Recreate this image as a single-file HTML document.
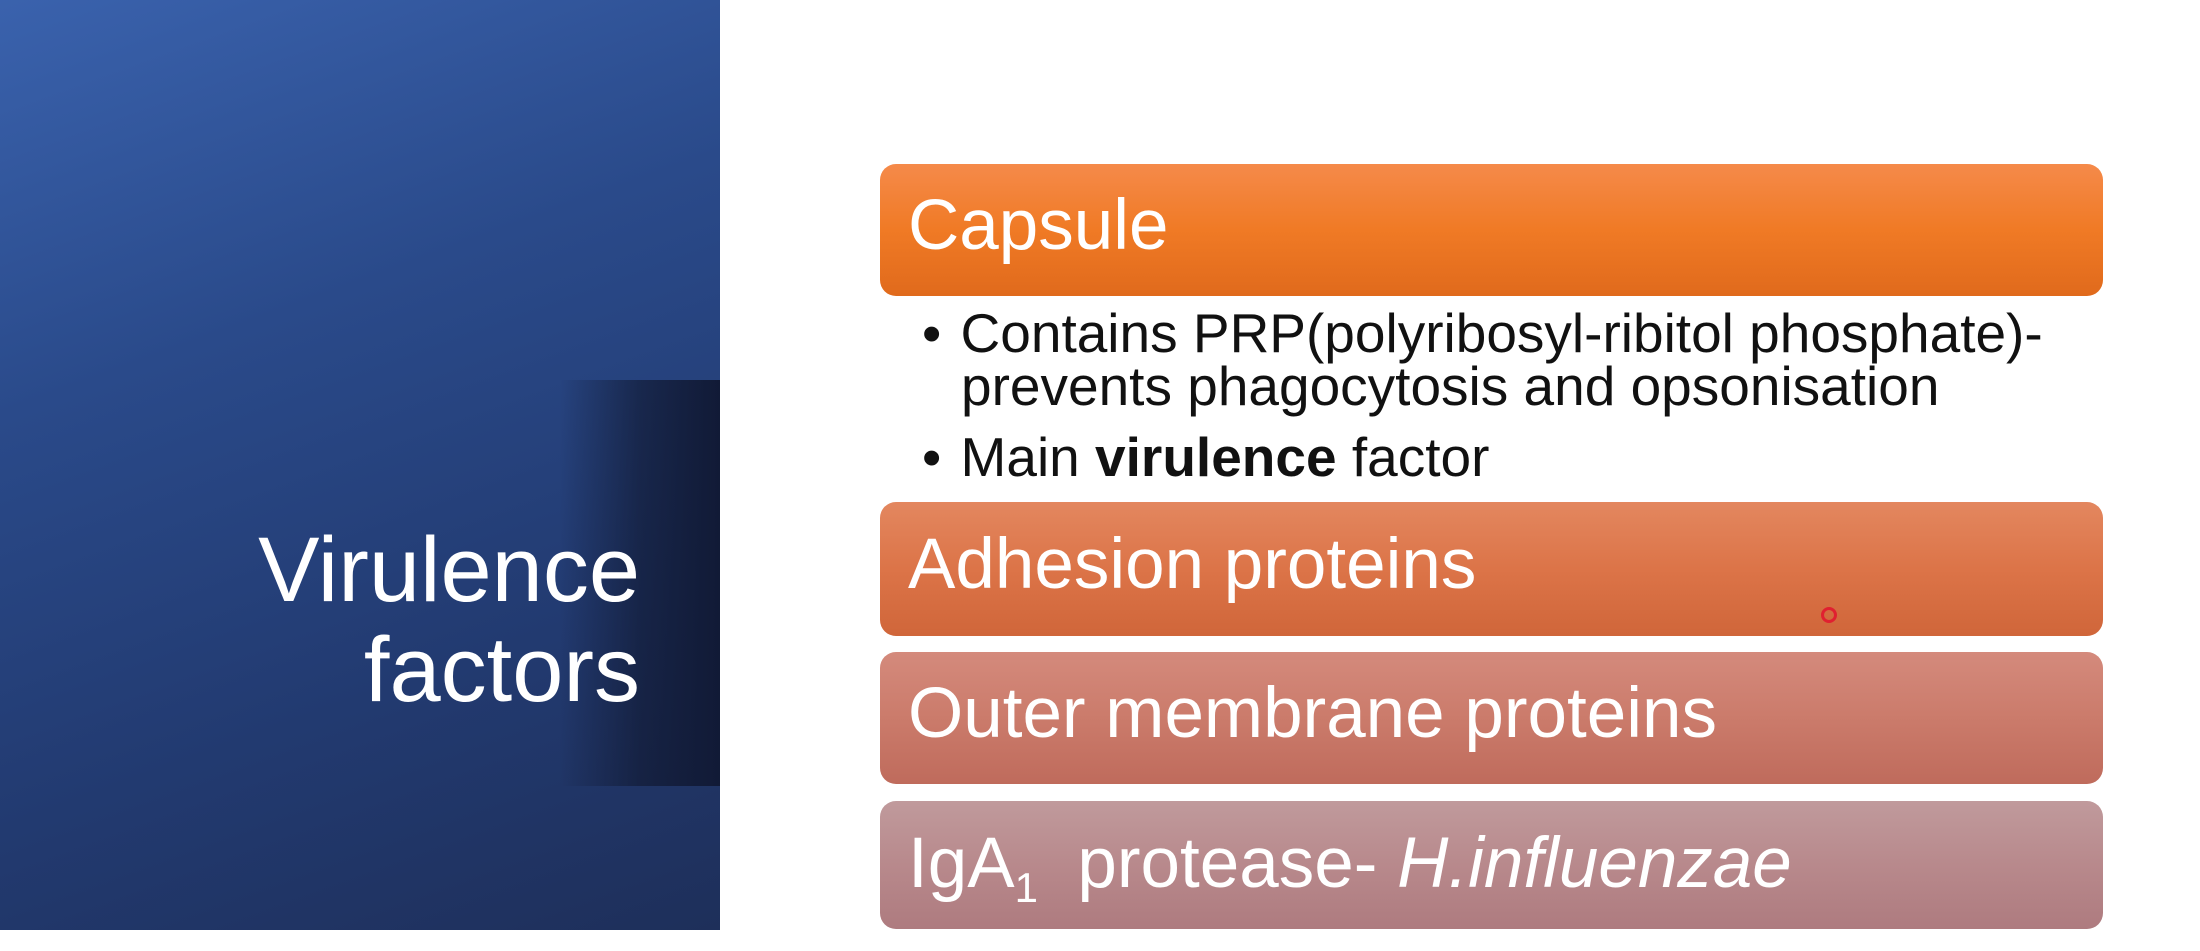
<!DOCTYPE html>
<html><head><meta charset="utf-8"><style>
html,body{margin:0;padding:0;}
body{width:2200px;height:930px;position:relative;overflow:hidden;background:#fff;font-family:"Liberation Sans",Arial,sans-serif;}
#left{position:absolute;left:0;top:0;width:720px;height:930px;background:linear-gradient(160deg,#3a62ad 0%,#2a4a8a 35%,#223a70 70%,#1e2f5a 100%);overflow:hidden;}
#dark{position:absolute;left:560px;top:380px;width:160px;height:406px;background:linear-gradient(90deg,rgba(15,22,45,0) 0%,rgba(15,22,45,.6) 50%,#111a36 100%);}
#title{position:absolute;right:80px;top:520px;color:#fff;font-size:92px;line-height:100px;text-align:right;}
.box{position:absolute;left:880px;width:1223px;border-radius:16px;color:#fff;font-size:71px;box-sizing:border-box;padding-left:28px;}
.bl{position:absolute;left:922px;font-size:55px;color:#111;}
</style></head><body>
<div id="left"><div id="dark"></div>
<div id="title">Virulence<br>factors</div></div>
<div class="box" style="top:164px;height:132px;background:linear-gradient(#f58a4a,#f07a25 50%,#e06a1c);line-height:124px;">Capsule</div>
<div class="bl" style="top:307px;line-height:53px;">•&nbsp;<span style="padding-left:4px">Contains PRP(polyribosyl-ribitol phosphate)-</span><br><span style="padding-left:39px">prevents phagocytosis and opsonisation</span></div>
<div class="bl" style="top:431px;line-height:53px;">•&nbsp;<span style="padding-left:4px">Main <b>virulence</b> factor</span></div>
<div class="box" style="top:502px;height:134px;background:linear-gradient(#e3875f,#dc7448 50%,#d0663a);line-height:126px;">Adhesion proteins</div>
<div class="box" style="top:652px;height:132px;background:linear-gradient(#d48a7c,#cb7b6b 50%,#bf6b5c);line-height:124px;">Outer membrane proteins</div>
<div class="box" style="top:801px;height:128px;background:linear-gradient(#c09a9c,#b8898c 50%,#ae7b7f);line-height:126px;">IgA<sub style="font-size:42px">1</sub>&nbsp; protease- <i>H.influenzae</i></div>
<div style="position:absolute;left:1821px;top:607px;width:10px;height:10px;border:3px solid #e02030;border-radius:50%;"></div>
</body></html>
